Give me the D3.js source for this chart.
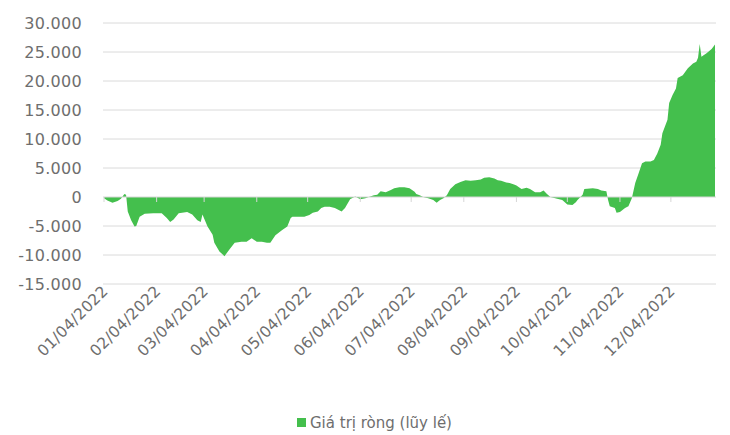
<!DOCTYPE html>
<html>
<head>
<meta charset="utf-8">
<script src="https://cdn.jsdelivr.net/npm/d3@7"></script>
<style>
  html, body { margin: 0; padding: 0; background: #fff; }
  svg text { font-family: "DejaVu Sans", sans-serif; fill: #6e6e6e; }
</style>
</head>
<body>
<svg id="chart" width="730" height="435"></svg>
<script>
// Cumulative net value, 2022
const dates = [
  "2022-01-04","2022-01-06","2022-01-09","2022-01-12","2022-01-14","2022-01-16","2022-01-17","2022-01-18",
  "2022-01-20","2022-01-22","2022-01-23","2022-01-25","2022-01-28","2022-02-02","2022-02-07","2022-02-10",
  "2022-02-12","2022-02-14","2022-02-17","2022-02-22","2022-02-25","2022-02-28","2022-03-02","2022-03-03",
  "2022-03-06","2022-03-09","2022-03-10","2022-03-13","2022-03-16","2022-03-19","2022-03-22","2022-03-26",
  "2022-03-29","2022-04-01","2022-04-04","2022-04-07","2022-04-10","2022-04-12","2022-04-15","2022-04-19",
  "2022-04-22","2022-04-24","2022-04-25","2022-04-28","2022-05-02","2022-05-05","2022-05-07","2022-05-10",
  "2022-05-12","2022-05-14","2022-05-17","2022-05-20","2022-05-22","2022-05-24","2022-05-26","2022-05-29",
  "2022-06-01","2022-06-04","2022-06-07","2022-06-09","2022-06-12","2022-06-14","2022-06-16","2022-06-19",
  "2022-06-22","2022-06-24","2022-06-27","2022-06-30","2022-07-03","2022-07-06","2022-07-07","2022-07-09",
  "2022-07-11","2022-07-14","2022-07-17","2022-07-19","2022-07-21","2022-07-23","2022-07-25","2022-07-27",
  "2022-07-30","2022-08-02","2022-08-05","2022-08-08","2022-08-11","2022-08-14","2022-08-16","2022-08-19",
  "2022-08-22","2022-08-24","2022-08-26","2022-08-29","2022-08-31","2022-09-03","2022-09-04","2022-09-07",
  "2022-09-10","2022-09-12","2022-09-15","2022-09-18","2022-09-20","2022-09-22","2022-09-24","2022-09-28",
  "2022-10-01","2022-10-04","2022-10-07","2022-10-09","2022-10-10","2022-10-13","2022-10-14","2022-10-19",
  "2022-10-22","2022-10-24","2022-10-27","2022-10-28","2022-10-29","2022-11-01","2022-11-02","2022-11-04",
  "2022-11-07","2022-11-09","2022-11-11","2022-11-13","2022-11-15","2022-11-17","2022-11-19","2022-11-22",
  "2022-11-24","2022-11-26","2022-11-28","2022-11-29","2022-12-02","2022-12-03","2022-12-05","2022-12-07",
  "2022-12-08","2022-12-11","2022-12-14","2022-12-17","2022-12-19","2022-12-20","2022-12-21","2022-12-22",
  "2022-12-25","2022-12-28","2022-12-30"
];
const netValues = [
  -200, -600, -1000, -700, -300, 500, 400, -2500,
  -4000, -5100, -5000, -3400, -2900, -2800, -2800, -3600,
  -4300, -3900, -2800, -2600, -3000, -4000, -4300, -3000,
  -5100, -6500, -7900, -9400, -10200, -9000, -7900, -7700,
  -7700, -7100, -7700, -7700, -7900, -7900, -6600, -5700,
  -5100, -3600, -3400, -3400, -3400, -3100, -2700, -2500,
  -1900, -1700, -1700, -1900, -2200, -2500, -1900, -400,
  100, -400, -200, 0, 300, 400, 1000, 800,
  1200, 1500, 1700, 1700, 1500, 900, 500, 300,
  0, -200, -500, -1000, -500, -200, 300, 1400,
  2200, 2600, 2900, 2800, 2900, 3000, 3300, 3400,
  3200, 2900, 2800, 2500, 2400, 2100, 2000, 1400,
  1600, 1400, 800, 800, 1100, 500, 0, -300,
  -500, -1300, -1400, -900, -500, 400, 1400, 1500,
  1400, 1100, 1000, -500, -1600, -1900, -2700, -2600,
  -1900, -1600, -200, 2400, 4100, 5800, 6100, 6100,
  6400, 7500, 9000, 11000, 13300, 16200, 17600, 18700,
  20500, 21000, 22200, 23000, 23300, 24000, 26400, 24200,
  24800, 25500, 26300
];
const tickDates = [
  "2022-01-04","2022-02-04","2022-03-04","2022-04-04","2022-05-04","2022-06-04",
  "2022-07-04","2022-08-04","2022-09-04","2022-10-04","2022-11-04","2022-12-04"
];
const yTicks = [30000, 25000, 20000, 15000, 10000, 5000, 0, -5000, -10000, -15000];
const xDomain = ["2022-01-04", "2022-12-30"];
const seriesName = "Giá trị ròng (lũy lế)";

const parse = d3.timeParse("%Y-%m-%d");
const data = dates.map((d, i) => ({ date: parse(d), value: netValues[i] }));

const svg = d3.select("#chart");
const green = "#44bf4d";
const gridColor = "#dadada";
const textColor = "#6e6e6e";

const x = d3.scaleTime().domain(xDomain.map(parse)).range([104, 715]);
const y = d3.scaleLinear().domain([-15000, 30000]).range([284, 23]);

const locale = d3.formatLocale({ decimal: ",", thousands: ".", grouping: [3], currency: ["", ""], minus: "-" });
const fmt = locale.format(",");
const dateFmt = d3.timeFormat("%m/%d/%Y");

// horizontal gridlines
svg.append("g").selectAll("line").data(yTicks.filter(t => t !== 0)).join("line")
  .attr("x1", 103).attr("x2", 716)
  .attr("y1", d => y(d)).attr("y2", d => y(d))
  .attr("stroke", gridColor).attr("stroke-width", 1);

// y-axis labels
const yAxis = d3.axisLeft(y).tickValues(yTicks).tickFormat(fmt).tickSize(0).tickPadding(0);
const gy = svg.append("g").attr("transform", "translate(82,0)").call(yAxis);
gy.select(".domain").remove();
gy.selectAll("text")
  .style("font-family", "'DejaVu Sans', sans-serif")
  .style("font-size", "16px").attr("fill", textColor).attr("dy", "0.36em")
  .style("letter-spacing", "0.3px");

// area
const area = d3.area().x(d => x(d.date)).y0(y(0)).y1(d => y(d.value));
svg.append("path").datum(data).attr("d", area).attr("fill", green);

// zero baseline and month ticks
const gx = svg.append("g").attr("transform", `translate(0,${y(0)})`);
gx.append("line").attr("x1", 103).attr("x2", 716).attr("stroke", "#d6d6d6").attr("stroke-width", 1);
gx.selectAll("line.tick").data(tickDates.map(parse)).join("line").attr("class", "tick")
  .attr("x1", d => x(d)).attr("x2", d => x(d)).attr("y1", 0).attr("y2", 5)
  .attr("stroke", "#d6d6d6").attr("stroke-width", 1);

// rotated date labels
svg.append("g").selectAll("text").data(tickDates.map(parse)).join("text")
  .attr("transform", d => `translate(${x(d) + 5},${292}) rotate(-45)`)
  .attr("text-anchor", "end")
  .style("font-size", "15.5px").style("letter-spacing", "0.3px")
  .attr("fill", textColor)
  .text(d => dateFmt(d));

// legend
const lg = svg.append("g").attr("transform", "translate(297,423)");
lg.append("rect").attr("x", 0).attr("y", -5).attr("width", 9).attr("height", 9).attr("fill", green);
lg.append("text").attr("x", 13).attr("y", 0).attr("dy", "0.36em")
  .style("font-size", "15px").attr("fill", textColor).text(seriesName);
</script>
</body>
</html>
